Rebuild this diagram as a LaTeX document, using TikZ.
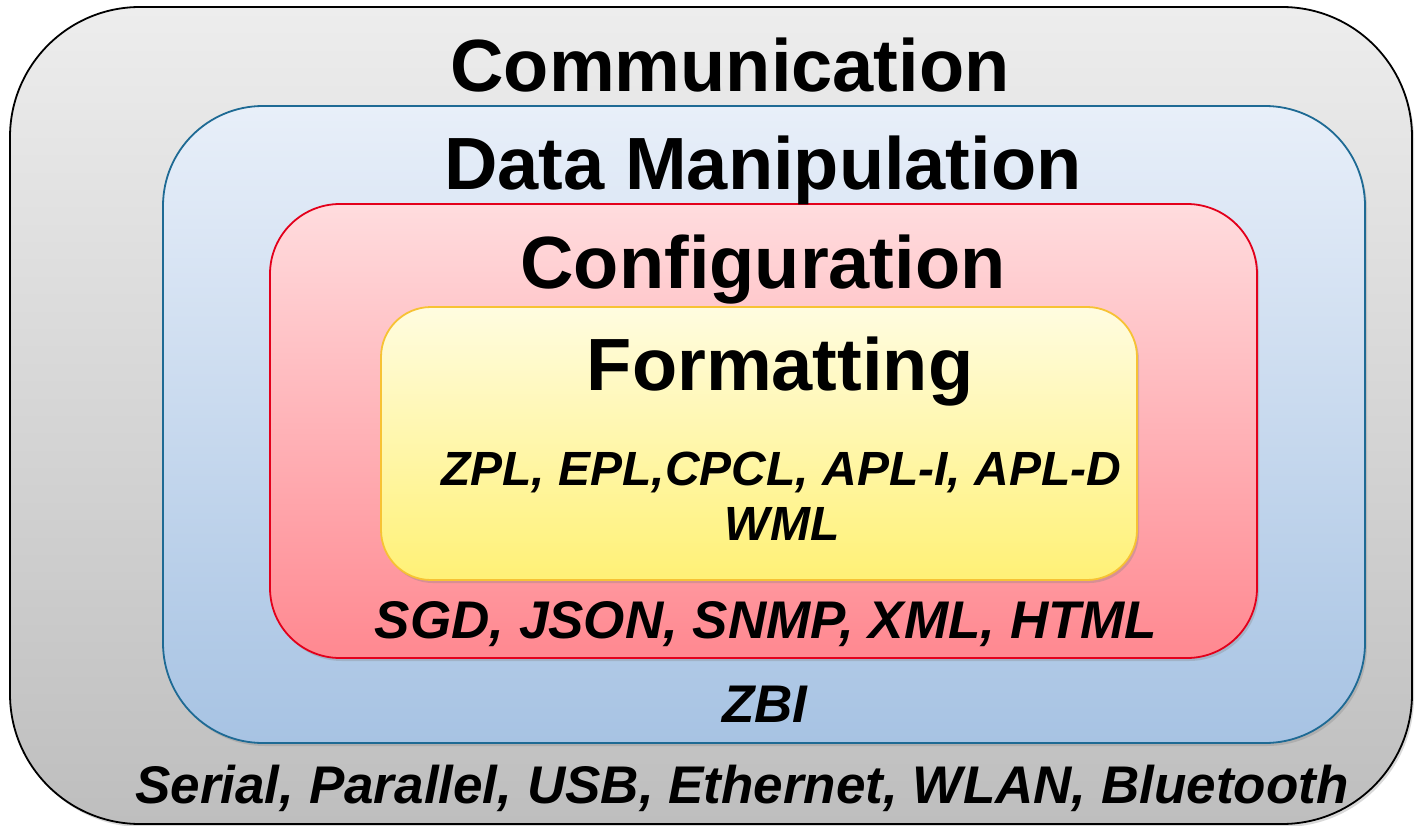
\documentclass[tikz,border=0pt]{standalone}
\usepackage{fontspec}
\setmainfont{Liberation Sans}
\usetikzlibrary{shadows}

\definecolor{commTop}{HTML}{EDEDED}
\definecolor{commBot}{HTML}{BEBEBE}
\definecolor{dataTop}{HTML}{E8EFF9}
\definecolor{dataBot}{HTML}{A7C3E3}
\definecolor{dataLine}{HTML}{1E6A94}
\definecolor{confTop}{HTML}{FFDCDE}
\definecolor{confBot}{HTML}{FF8890}
\definecolor{confLine}{HTML}{E3001B}
\definecolor{formTop}{HTML}{FFFCE0}
\definecolor{formBot}{HTML}{FFF176}
\definecolor{formLine}{HTML}{F7C234}

\begin{document}
\begin{tikzpicture}[
  x=1pt, y=-1pt,
  layer/.style={rounded corners=#1, line width=1.8pt,
    drop shadow={shadow xshift=2pt, shadow yshift=-3pt, opacity=0.3}},
  title/.style={anchor=base, inner sep=0pt, font=\fontsize{74}{80}\selectfont\bfseries},
  items/.style={anchor=base, inner sep=0pt, font=\fontsize{53}{60}\selectfont\bfseries\itshape},
  smallitems/.style={items, font=\fontsize{48}{54}\selectfont\bfseries\itshape},
]
  \useasboundingbox (0,0) rectangle (1420,826);

  % Layers, outer to inner
  \path[layer=130, draw=black, top color=commTop, bottom color=commBot]
    (10,7) rectangle (1412,824);
  \path[layer=100, draw=dataLine, top color=dataTop, bottom color=dataBot]
    (163,106) rectangle (1365,743);
  \path[layer=70, draw=confLine, top color=confTop, bottom color=confBot]
    (270,204) rectangle (1257,658);
  \path[layer=50, draw=formLine, top color=formTop, bottom color=formBot]
    (381,307) rectangle (1137,580);

  % Titles
  \node[title] (comm) at (730,92) {Communication};
  \node[title] (data) at (763,190) {Data Manipulation};
  \node[title] (conf) at (763,288) {Configuration};
  \node[title] (form) at (780,390) {Formatting};

  % Contents
  \node[smallitems] (formA) at (781,485) {ZPL, EPL,CPCL, APL-I, APL-D};
  \node[smallitems] (formB) at (782,540) {WML};
  \node[items] (confA) at (766,638) {SGD, JSON, SNMP, XML, HTML};
  \node[items] (dataA) at (765,722) {ZBI};
  \node[items] (commA) at (742,803) {Serial, Parallel, USB, Ethernet, WLAN, Bluetooth};
\end{tikzpicture}
\end{document}
